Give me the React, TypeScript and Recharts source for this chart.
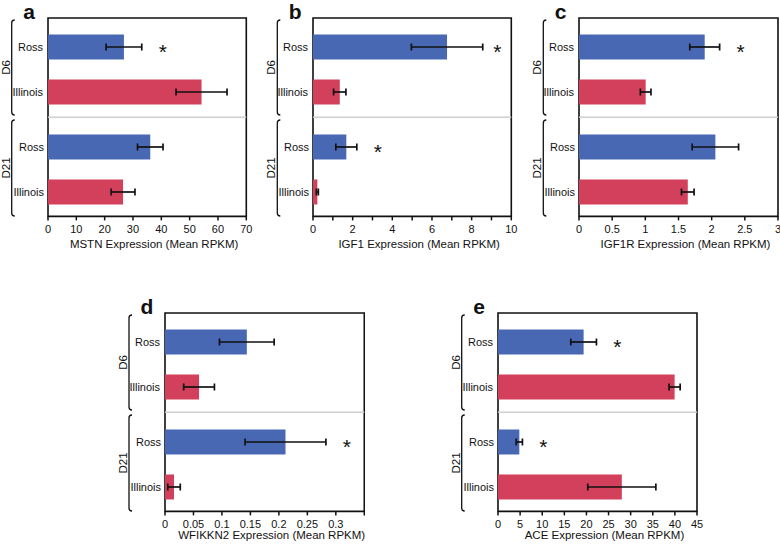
import React from "react";
import { BarChart, Bar, XAxis, YAxis, ErrorBar, ReferenceArea, ReferenceLine } from "recharts";

const breeds = ["Ross", "Illinois"];
const stages = ["D6", "D21"];

// row order: Ross D6, Illinois D6, Ross D21, Illinois D21
const mstnMean = [26.8, 54.2, 36.1, 26.5];
const mstnErr = [6.3, 9.0, 4.5, 4.2];
const mstnSig = [true, false, false, false];
const mstnTicks = [0, 10, 20, 30, 40, 50, 60, 70];
const mstnTickLabels = ["0", "10", "20", "30", "40", "50", "60", "70"];

const igf1Mean = [6.76, 1.35, 1.68, 0.22];
const igf1Err = [1.8, 0.31, 0.53, 0.05];
const igf1Sig = [true, false, true, false];
const igf1Ticks = [0, 1, 2, 3, 4, 5, 6, 7, 8, 9, 10];
const igf1TickLabels = ["0", "", "2", "", "4", "", "6", "", "8", "", "10"];

const igf1rMean = [1.895, 1.005, 2.056, 1.64];
const igf1rErr = [0.225, 0.08, 0.35, 0.095];
const igf1rSig = [true, false, false, false];
const igf1rTicks = [0, 0.5, 1, 1.5, 2, 2.5, 3];
const igf1rTickLabels = ["0", "0.5", "1", "1.5", "2", "2.5", "3"];

const wfikkn2Mean = [0.1437, 0.0598, 0.2116, 0.0158];
const wfikkn2Err = [0.048, 0.027, 0.071, 0.011];
const wfikkn2Sig = [false, false, true, false];
const wfikkn2Ticks = [0, 0.05, 0.1, 0.15, 0.2, 0.25, 0.3, 0.35];
const wfikkn2TickLabels = ["0", "0.05", "0.1", "0.15", "0.2", "0.25", "0.3", ""];

const aceMean = [19.36, 39.94, 4.82, 28.0];
const aceErr = [2.9, 1.25, 0.7, 7.7];
const aceSig = [true, false, true, false];
const aceTicks = [0, 5, 10, 15, 20, 25, 30, 35, 40, 45];
const aceTickLabels = ["0", "5", "10", "15", "20", "25", "30", "35", "40", "45"];

const BLUE = "#4868b4";
const RED = "#d3405b";
const INK = "#111";
const FONT = "'Liberation Sans', Arial, Helvetica, sans-serif";

const Y_W = 40;
const M_TOP = 6;
const X_H = 40;
const PLOT_H = 198.4;
const BAND = 45;
const ROW_PAD = 6.5;

const buildRows = (mean: number[], err: number[], sig: boolean[]) =>
  breeds.map((breed, i) => ({
    breed,
    d6: mean[i],
    d6Err: err[i],
    d6Sig: sig[i],
    d21: mean[i + 2],
    d21Err: err[i + 2],
    d21Sig: sig[i + 2],
  }));

const panels = [
  { letter: "a", title: "MSTN Expression (Mean RPKM)", mean: mstnMean, err: mstnErr, sig: mstnSig, ticks: mstnTicks, labels: mstnTickLabels, x: 47.7, y: 18.3, w: 198.3, mr: 12, titleOffset: 8 },
  { letter: "b", title: "IGF1 Expression (Mean RPKM)", mean: igf1Mean, err: igf1Err, sig: igf1Sig, ticks: igf1Ticks, labels: igf1TickLabels, x: 313.3, y: 18.3, w: 198.3, mr: 12, titleOffset: 8 },
  { letter: "c", title: "IGF1R Expression (Mean RPKM)", mean: igf1rMean, err: igf1rErr, sig: igf1rSig, ticks: igf1rTicks, labels: igf1rTickLabels, x: 579.3, y: 18.3, w: 199, mr: 12, titleOffset: 8 },
  { letter: "d", title: "WFIKKN2 Expression (Mean RPKM)", mean: wfikkn2Mean, err: wfikkn2Err, sig: wfikkn2Sig, ticks: wfikkn2Ticks, labels: wfikkn2TickLabels, x: 165, y: 313.3, w: 199.3, mr: 1, titleOffset: 12 },
  { letter: "e", title: "ACE Expression (Mean RPKM)", mean: aceMean, err: aceErr, sig: aceSig, ticks: aceTicks, labels: aceTickLabels, x: 497.7, y: 313.3, w: 199, mr: 12, titleOffset: 12 },
];

// bar with significance star placed just past the error bar
const makeShape = (valueKey: string, errKey: string, sigKey: string, plotRight: number) => (props: any) => {
  const { x, y, width, height, payload, index } = props;
  const value = payload[valueKey];
  const perUnit = value ? width / value : 0;
  const errEnd = x + width + payload[errKey] * perUnit;
  const starX = Math.min(errEnd + 21, plotRight - 14);
  const fs = 21;
  return (
    <g>
      <rect x={x} y={y} width={width} height={height} fill={index === 0 ? BLUE : RED} />
      {payload[sigKey] && (
        <text x={starX} y={y + height / 2 + 0.575 * fs} textAnchor="middle" fontSize={fs} fill={INK} fontFamily={FONT}>
          *
        </text>
      )}
    </g>
  );
};

function Panel({ p }: { p: (typeof panels)[number] }) {
  const rows = buildRows(p.mean, p.err, p.sig);
  const max = p.ticks[p.ticks.length - 1];
  const plotRight = Y_W + p.w;
  const tickStyle = { fontSize: 11, fill: INK, fontFamily: FONT };
  // both category axes are 1px wide so their labels line up whichever is stacked first
  const catAxis = {
    type: "category" as const,
    dataKey: "breed",
    width: 1,
    interval: 0,
    tickLine: false,
    axisLine: false,
    tickSize: 0,
    tickMargin: 4,
    tick: tickStyle,
  };
  return (
    <div style={{ position: "absolute", left: p.x - Y_W, top: p.y - M_TOP }}>
      <BarChart
        width={Y_W + p.w + p.mr}
        height={M_TOP + PLOT_H + X_H}
        layout="vertical"
        data={rows}
        margin={{ top: M_TOP, right: p.mr, left: Y_W - 2, bottom: 0 }}
      >
        <XAxis
          type="number"
          domain={[0, max]}
          ticks={p.ticks}
          interval={0}
          allowDataOverflow
          tickFormatter={(v: number) => p.labels[p.ticks.indexOf(v)] ?? ""}
          tick={tickStyle}
          tickLine={{ stroke: INK, strokeWidth: 1.5 }}
          tickSize={4}
          tickMargin={5}
          axisLine={false}
          height={X_H}
          label={{ value: p.title, position: "insideBottom", offset: p.titleOffset, dx: 7, fontSize: 11.5, fill: INK, fontFamily: FONT }}
        />
        <YAxis
          yAxisId="d6"
          {...catAxis}
          padding={{ top: ROW_PAD, bottom: PLOT_H - ROW_PAD - 2 * BAND }}
        />
        <YAxis
          yAxisId="d21"
          {...catAxis}
          padding={{ top: PLOT_H / 2 + ROW_PAD + 0.8, bottom: PLOT_H / 2 - ROW_PAD - 0.8 - 2 * BAND }}
        />
        <YAxis yAxisId="frame" type="number" domain={[0, 1]} orientation="right" hide />
        <ReferenceLine y={0.5} yAxisId="frame" stroke="#cfcfcf" strokeWidth={1.5} />
        <Bar dataKey="d6" yAxisId="d6" barSize={25} isAnimationActive={false} shape={makeShape("d6", "d6Err", "d6Sig", plotRight)}>
          <ErrorBar dataKey="d6Err" direction="x" width={3.5} stroke={INK} strokeWidth={1.7} />
        </Bar>
        <Bar dataKey="d21" yAxisId="d21" barSize={25} isAnimationActive={false} shape={makeShape("d21", "d21Err", "d21Sig", plotRight)}>
          <ErrorBar dataKey="d21Err" direction="x" width={3.5} stroke={INK} strokeWidth={1.7} />
        </Bar>
        <ReferenceArea x1={0} x2={max} y1={0} y2={1} yAxisId="frame" fill="none" fillOpacity={0} stroke={INK} strokeWidth={1.6} ifOverflow="visible" />
      </BarChart>
    </div>
  );
}

function Bracket({ x, y1, y2 }: { x: number; y1: number; y2: number }) {
  const r = 3;
  return (
    <path
      d={`M${x + r},${y1} Q${x},${y1} ${x},${y1 + r} L${x},${y2 - r} Q${x},${y2} ${x + r},${y2}`}
      fill="none"
      stroke={INK}
      strokeWidth={1.3}
    />
  );
}

function Decorations() {
  return (
    <svg width={780} height={544} style={{ position: "absolute", left: 0, top: 0, pointerEvents: "none" }}>
      {panels.map((p) => {
        const mid = p.y + PLOT_H / 2;
        const spans = [
          [p.y + 1.7, mid - 2.5],
          [mid + 2.5, p.y + PLOT_H - 0.7],
        ];
        return (
          <g key={p.letter}>
            <text x={p.x - 24.5} y={p.y + 0.7} fontSize={21} fontWeight="bold" fill={INK} fontFamily={FONT}>
              {p.letter}
            </text>
            {stages.map((s, i) => (
              <g key={s}>
                <Bracket x={p.x - 36} y1={spans[i][0]} y2={spans[i][1]} />
                <text
                  transform={`translate(${p.x - 42},${(spans[i][0] + spans[i][1]) / 2}) rotate(-90)`}
                  textAnchor="middle"
                  dy="0.36em"
                  fontSize={11.5}
                  fill={INK}
                  fontFamily={FONT}
                >
                  {s}
                </text>
              </g>
            ))}
          </g>
        );
      })}
    </svg>
  );
}

export default function App() {
  return (
    <div
      style={{
        position: "absolute",
        left: 0,
        top: 0,
        width: 780,
        height: 544,
        overflow: "hidden",
        background: "#fff",
        fontFamily: FONT,
      }}
    >
      {panels.map((p) => (
        <Panel key={p.letter} p={p} />
      ))}
      <Decorations />
    </div>
  );
}
